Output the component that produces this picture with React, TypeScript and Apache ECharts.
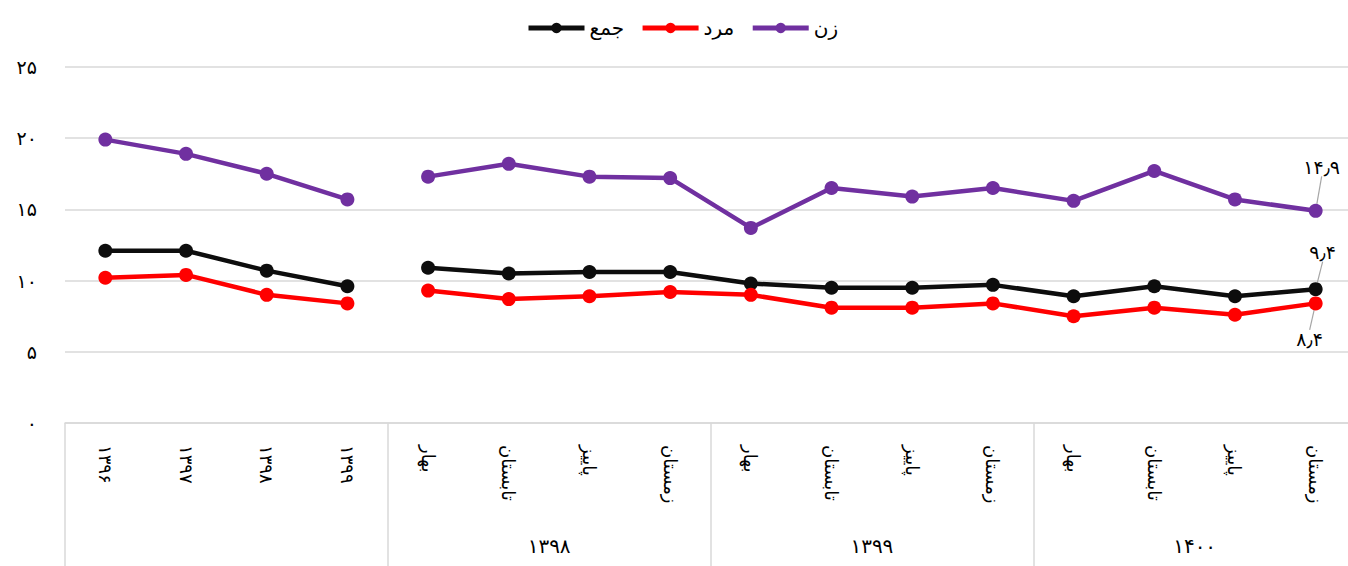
import React, { useEffect, useRef } from "react";
import * as echarts from "echarts";

const categories = [
  "۱۳۹۶", "۱۳۹۷", "۱۳۹۸", "۱۳۹۹",
  "بهار", "تابستان", "پاییز", "زمستان",
  "بهار", "تابستان", "پاییز", "زمستان",
  "بهار", "تابستان", "پاییز", "زمستان",
];
const groupLabels = ["", "۱۳۹۸", "۱۳۹۹", "۱۴۰۰"];
const seriesNames = ["جمع", "مرد", "زن"];
const totalValues = [12.1, 12.1, 10.7, 9.6, 10.9, 10.5, 10.6, 10.6, 9.8, 9.5, 9.5, 9.7, 8.9, 9.6, 8.9, 9.4];
const maleValues = [10.2, 10.4, 9.0, 8.4, 9.3, 8.7, 8.9, 9.2, 9.0, 8.1, 8.1, 8.4, 7.5, 8.1, 7.6, 8.4];
const femaleValues = [19.9, 18.9, 17.5, 15.7, 17.3, 18.2, 17.3, 17.2, 13.7, 16.5, 15.9, 16.5, 15.6, 17.7, 15.7, 14.9];
const annualCount = 4;

const faDigits = "۰۱۲۳۴۵۶۷۸۹";
const toFa = (v: number | string) =>
  String(v).replace(".", "٫").replace(/\d/g, (d) => faDigits[+d]);

const FONT = "DejaVu Sans, Noto Sans, sans-serif";

function makeSeries(
  name: string,
  values: number[],
  color: string,
  offset: { dx: number; dy: number }
) {
  const base = {
    name,
    type: "line",
    xAxisIndex: 0,
    yAxisIndex: 0,
    symbol: "circle",
    symbolSize: 14,
    connectNulls: false,
    lineStyle: { color, width: 4.5 },
    itemStyle: { color },
    emphasis: { disabled: true },
  };
  const seg1 = values.map((v, i) => (i < annualCount ? v : null));
  const seg2: any[] = values.map((v, i) => (i >= annualCount ? v : null));
  const last = values.length - 1;
  seg2[last] = {
    value: values[last],
    label: {
      show: true,
      position: "inside",
      formatter: (p: any) => toFa(Number(p.value).toFixed(1)),
      color: "#000",
      fontSize: 19,
      fontFamily: FONT,
    },
  };
  return [
    { ...base, data: seg1 },
    {
      ...base,
      data: seg2,
      labelLayout: { dx: offset.dx, dy: offset.dy },
      labelLine: { show: true, lineStyle: { color: "#A6A6A6", width: 1.2 } },
    },
  ];
}

export default function App() {
  const ref = useRef<HTMLDivElement>(null);
  useEffect(() => {
    if (!ref.current) return;
    const chart = echarts.init(ref.current, undefined, { renderer: "svg" });
    const grid = "#D9D9D9";
    chart.setOption({
      animation: false,
      backgroundColor: "#fff",
      textStyle: { fontFamily: FONT },
      legend: {
        data: seriesNames,
        top: 13,
        left: 521,
        itemWidth: 56,
        itemHeight: 13,
        itemGap: 16,
        lineStyle: { width: 5 },
        textStyle: { fontSize: 20, color: "#000", fontFamily: FONT },
      },
      grid: { left: 65, right: 4, top: 67, bottom: 143 },
      xAxis: [
        {
          type: "category",
          data: categories,
          position: "bottom",
          boundaryGap: true,
          axisLine: { show: false },
          axisTick: { show: false },
          splitLine: { show: false },
          axisLabel: {
            interval: 0,
            rotate: -90,
            margin: 22,
            fontSize: 18,
            color: "#000",
            fontFamily: FONT,
          },
        },
        {
          type: "category",
          data: groupLabels,
          position: "bottom",
          boundaryGap: true,
          axisLine: { show: true, lineStyle: { color: grid, width: 1.5 } },
          axisTick: {
            show: true,
            interval: 0,
            alignWithLabel: false,
            length: 150,
            lineStyle: { color: grid, width: 1.5 },
          },
          splitLine: { show: false },
          axisLabel: {
            interval: 0,
            margin: 113,
            fontSize: 20,
            color: "#000",
            fontFamily: FONT,
          },
        },
      ],
      yAxis: {
        type: "value",
        min: 0,
        max: 25,
        interval: 5,
        axisLine: { show: false },
        axisTick: { show: false },
        splitLine: { lineStyle: { color: grid, width: 1.5 } },
        axisLabel: {
          margin: 28,
          fontSize: 19,
          color: "#000",
          fontFamily: FONT,
          formatter: (v: number) => toFa(v),
        },
      },
      series: [
        ...makeSeries(seriesNames[0], totalValues, "#0D0D0D", { dx: 7, dy: -37 }),
        ...makeSeries(seriesNames[1], maleValues, "#FF0000", { dx: -6, dy: 36 }),
        ...makeSeries(seriesNames[2], femaleValues, "#7030A0", { dx: 6, dy: -44 }),
      ],
    });
    return () => chart.dispose();
  }, []);
  return (
    <div
      style={{
        position: "fixed",
        left: 0,
        top: 0,
        width: 1348,
        height: 566,
        overflow: "hidden",
        background: "#fff",
      }}
    >
      <div ref={ref} style={{ width: 1360, height: 566 }} />
    </div>
  );
}
